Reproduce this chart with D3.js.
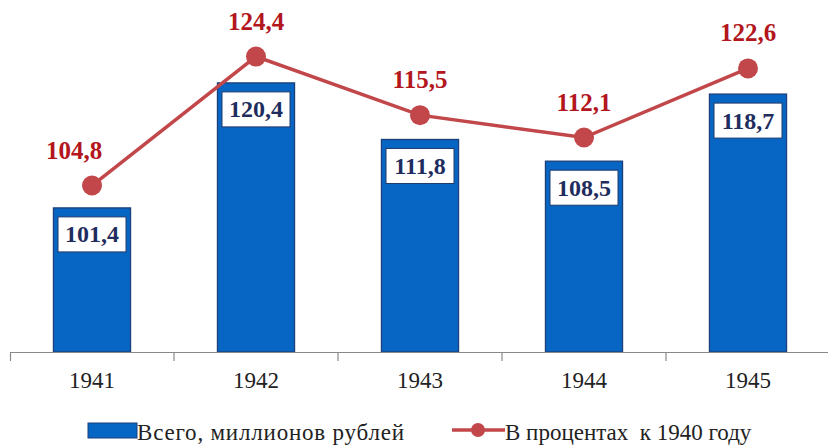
<!DOCTYPE html>
<html lang="ru">
<head>
<meta charset="utf-8">
<script src="https://cdn.jsdelivr.net/npm/d3@7/dist/d3.min.js"></script>
<style>
  html, body { margin: 0; padding: 0; background: #fff; }
  svg { display: block; }
</style>
</head>
<body>
<svg id="chart" width="828" height="445"></svg>
<script>
// Years on the category axis
const years = ["1941", "1942", "1943", "1944", "1945"];
// Total, million roubles (bars)
const totals = [101.4, 120.4, 111.8, 108.5, 118.7];
// Percent of 1940 level (line)
const percents = [104.8, 124.4, 115.5, 112.1, 122.6];
// Legend entries
const seriesNames = ["Всего, миллионов рублей", "В процентах  к 1940 году"];

const fmt = v => v.toFixed(1).replace(".", ",");
const serifFace = "Liberation Serif";

// Serif text helper: family and size on the element itself
function serifText(sel, size, bold) {
  sel.attr("font-family", serifFace)
    .style("font-family", `"${serifFace}"`)
    .attr("font-size", size);
  if (bold) sel.attr("font-weight", "bold");
  return sel;
}

const barFill = "#0766c4";
const barStroke = "#1b3f78";
const lineColor = "#c2474a";
const redText = "#b3161d";
const navyText = "#1f2d5e";

const svg = d3.select("#chart");

const x = d3.scaleBand().domain(years).range([10, 830]);
const y = d3.scaleLinear().domain([79.5, 133]).range([352, 0]);
const barW = x.bandwidth() * 0.47;
const cx = d => x(d) + x.bandwidth() / 2;

// Bars
svg.append("g").selectAll("rect")
  .data(years)
  .join("rect")
  .attr("x", d => cx(d) - barW / 2)
  .attr("y", (d, i) => y(totals[i]))
  .attr("width", barW)
  .attr("height", (d, i) => y.range()[0] - y(totals[i]))
  .attr("fill", barFill)
  .attr("stroke", barStroke)
  .attr("stroke-width", 1.3);

// Value boxes inside the bars
const boxW = 68, boxH = 35, boxGap = 9;
const boxes = svg.append("g").selectAll("g")
  .data(years)
  .join("g")
  .attr("transform", (d, i) => `translate(${cx(d)},${y(totals[i]) + boxGap})`);
boxes.append("rect")
  .attr("x", -boxW / 2)
  .attr("y", 0)
  .attr("width", boxW)
  .attr("height", boxH)
  .attr("fill", "#fff")
  .attr("stroke", "#22386a")
  .attr("stroke-width", 1);
boxes.append("text")
  .attr("x", 0)
  .attr("y", boxH / 2 + 8)
  .attr("text-anchor", "middle")
  .attr("fill", navyText)
  .call(serifText, 24, true)
  .text((d, i) => fmt(totals[i]));

// Axis
const axis = svg.append("g")
  .attr("transform", `translate(0,${y.range()[0]})`)
  .call(d3.axisBottom(x).tickSize(0).tickSizeOuter(9).tickPadding(20));
axis.select(".domain").attr("stroke", "#8a8a8a").attr("stroke-width", 1.2);
axis.selectAll(".tick text")
  .attr("fill", "#222")
  .call(serifText, 23, false);
// Category boundary ticks
svg.append("g").selectAll("line")
  .data(years.slice(1))
  .join("line")
  .attr("x1", d => x(d)).attr("x2", d => x(d))
  .attr("y1", y.range()[0]).attr("y2", y.range()[0] + 9)
  .attr("stroke", "#8a8a8a").attr("stroke-width", 1.2);

// Percent line
const line = d3.line()
  .x((d, i) => cx(years[i]))
  .y(d => y(d));
svg.append("path")
  .datum(percents)
  .attr("d", line)
  .attr("fill", "none")
  .attr("stroke", lineColor)
  .attr("stroke-width", 3.5);
svg.append("g").selectAll("circle")
  .data(percents)
  .join("circle")
  .attr("cx", (d, i) => cx(years[i]))
  .attr("cy", d => y(d))
  .attr("r", 10)
  .attr("fill", lineColor);

// Percent labels (the first one sits left of its point)
svg.append("g").selectAll("text")
  .data(percents)
  .join("text")
  .attr("x", (d, i) => cx(years[i]) + (i === 0 ? -18 : 0))
  .attr("y", d => y(d) - 27)
  .attr("text-anchor", "middle")
  .attr("fill", redText)
  .call(serifText, 25, true)
  .text(d => fmt(d));

// Legend
const lg = svg.append("g");
lg.append("rect")
  .attr("x", 88).attr("y", 423).attr("width", 49).attr("height", 15)
  .attr("fill", barFill).attr("stroke", barStroke).attr("stroke-width", 1);
lg.append("text")
  .attr("x", 137).attr("y", 440)
  .attr("fill", "#222")
  .call(serifText, 23, false)
  .style("letter-spacing", "0.8px")
  .text(seriesNames[0]);
lg.append("line")
  .attr("x1", 452).attr("x2", 505).attr("y1", 430).attr("y2", 430)
  .attr("stroke", lineColor).attr("stroke-width", 3.5);
lg.append("circle")
  .attr("cx", 478).attr("cy", 430).attr("r", 7).attr("fill", lineColor);
lg.append("text")
  .attr("x", 505).attr("y", 440)
  .attr("fill", "#222")
  .attr("xml:space", "preserve")
  .style("white-space", "pre")
  .call(serifText, 23, false)
  .text(seriesNames[1]);
</script>
</body>
</html>
